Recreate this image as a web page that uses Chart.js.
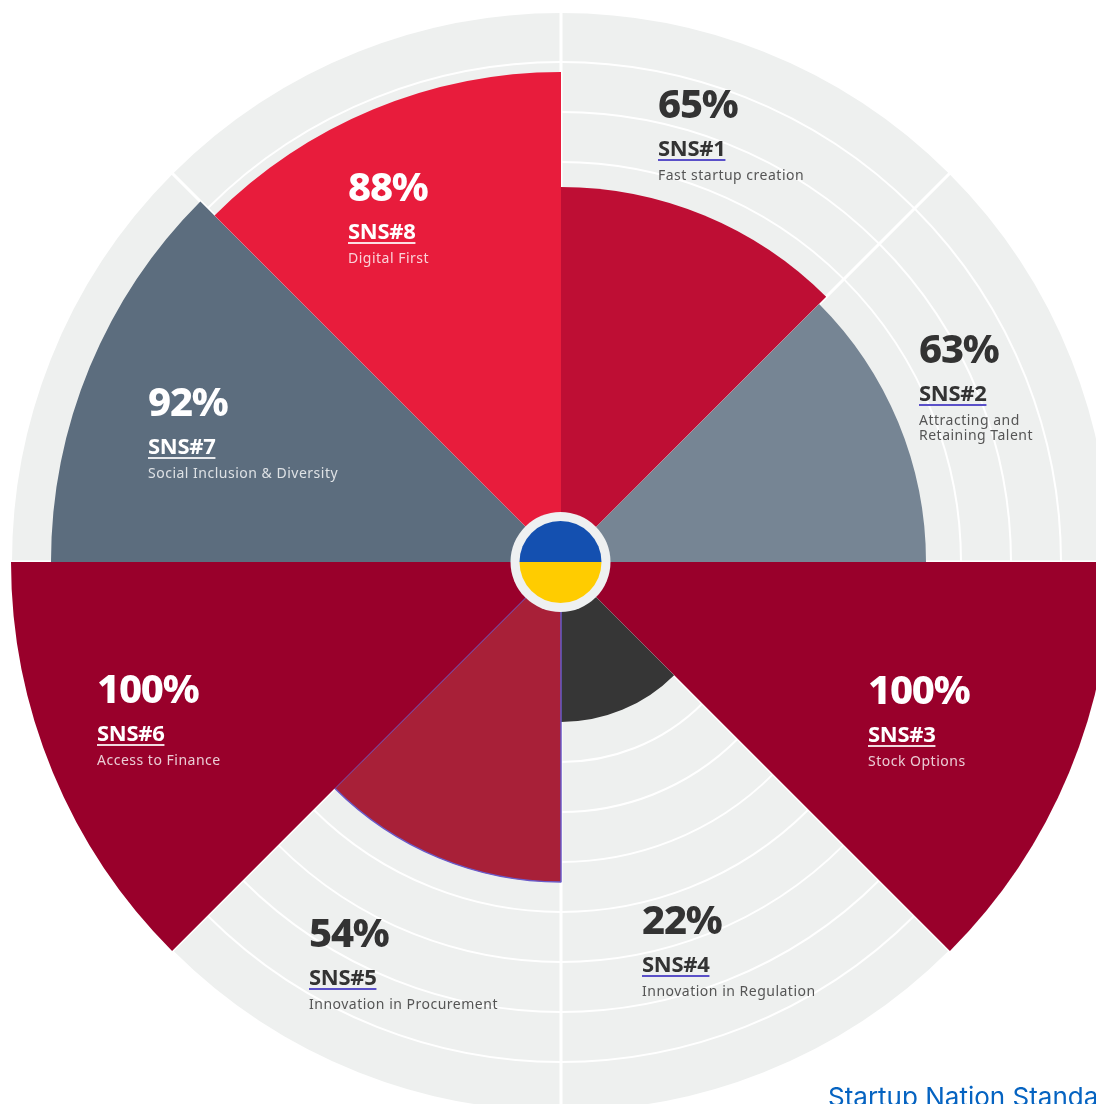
<!DOCTYPE html>
<html>
<head>
<meta charset="utf-8">
<script src="https://cdn.jsdelivr.net/npm/chart.js@4"></script>
<style>
  html, body { margin: 0; padding: 0; background: #fff; overflow: hidden; width: 1096px; height: 1104px; }
  #wrap { position: relative; width: 1096px; height: 1104px; overflow: hidden; }
  #chart { position: absolute; left: 11px; top: 12px; }
  .lbl { position: absolute; font-family: "Noto Sans", sans-serif; white-space: pre-line; }
  .lbl div { position: absolute; left: 0; white-space: pre; }
  .pct { top: -23px; font-size: 40px; line-height: 44px; font-weight: 800; letter-spacing: -1.2px; }
  .sns { top: 30px; font-size: 22px; line-height: 26px; font-weight: 700; letter-spacing: -0.3px;
         text-decoration: underline; text-decoration-thickness: 2px; text-underline-offset: 3px; }
  .desc { top: 63px; font-size: 14px; line-height: 15px; letter-spacing: 0.5px; }
  #src { position: absolute; left: 828px; top: 1081px; font: 26px Inter, sans-serif; color: #0563c1; white-space: nowrap; }
</style>
</head>
<body>
<div id="wrap">
  <canvas id="chart" width="1100" height="1100"></canvas>
  <div id="src">Startup Nation Standard</div>
</div>
<script>
const codes = ["SNS#1", "SNS#2", "SNS#3", "SNS#4", "SNS#5", "SNS#6", "SNS#7", "SNS#8"];
const names = [
  "Fast startup creation",
  "Attracting and\nRetaining Talent",
  "Stock Options",
  "Innovation in Regulation",
  "Innovation in Procurement",
  "Access to Finance",
  "Social Inclusion & Diversity",
  "Digital First",
];
const scores = [65, 63, 100, 22, 54, 100, 92, 88];

const sliceColors = ["#be0e34", "#768594", "#99002b", "#363636", "#a82038", "#99002b", "#5c6d7e", "#e81c3c"];
const sliceBorders = [0, 0, 0, 0, 1.5, 0, 0, 0];

// where each text block sits, and its colours
const labelX = [658, 919, 868, 642, 309, 97, 148, 348];
const labelY = [104, 349, 690, 920, 933, 689, 402, 187];
const darkText = [true, true, false, true, true, false, false, false];

// flag in the middle, drawn over the hole of the scale
const centerFlag = {
  id: "centerFlag",
  afterDatasetsDraw(chart) {
    const r = chart.scales.r;
    const x = r.xCenter - 0.5, y = r.yCenter;
    const outer = r.getDistanceFromCenterForValue(0);
    const inner = r.getDistanceFromCenterForValue(-1.8);
    const ctx = chart.ctx;
    ctx.save();
    ctx.fillStyle = "#eef0f1";
    ctx.beginPath();
    ctx.arc(x, y, outer, 0, Math.PI * 2);
    ctx.fill();
    ctx.fillStyle = "#1450b0";
    ctx.beginPath();
    ctx.arc(x, y, inner, Math.PI, 0);
    ctx.fill();
    ctx.fillStyle = "#ffcc00";
    ctx.beginPath();
    ctx.arc(x, y, inner, 0, Math.PI);
    ctx.fill();
    ctx.restore();
  },
};

new Chart(document.getElementById("chart"), {
  type: "polarArea",
  data: {
    labels: codes,
    datasets: [{
      data: scores,
      backgroundColor: sliceColors,
      borderColor: "#6a5ac8",
      borderWidth: sliceBorders,
    }],
  },
  options: {
    responsive: false,
    animation: false,
    layout: { padding: 0 },
    plugins: { legend: { display: false }, tooltip: { enabled: false } },
    scales: {
      r: {
        min: -10,
        max: 100,
        backgroundColor: "#eef0ef",
        ticks: { display: false, stepSize: 10 },
        grid: { color: "#ffffff", lineWidth: 2 },
        angleLines: { display: true, color: "#ffffff", lineWidth: 3 },
        border: { display: false },
      },
    },
  },
  plugins: [centerFlag],
});

const wrap = document.getElementById("wrap");
codes.forEach((code, i) => {
  const box = document.createElement("div");
  box.className = "lbl";
  box.style.left = labelX[i] + "px";
  box.style.top = labelY[i] + "px";
  const main = darkText[i] ? "#333333" : "#ffffff";
  const soft = darkText[i] ? "#555555" : "rgba(255,255,255,0.8)";
  const line = darkText[i] ? "#5a50c8" : "rgba(255,255,255,0.85)";

  const pct = document.createElement("div");
  pct.className = "pct";
  pct.textContent = scores[i] + "%";
  pct.style.color = main;

  const sns = document.createElement("div");
  sns.className = "sns";
  sns.textContent = code;
  sns.style.color = main;
  sns.style.textDecorationColor = line;

  const desc = document.createElement("div");
  desc.className = "desc";
  desc.textContent = names[i];
  desc.style.color = soft;

  box.append(pct, sns, desc);
  wrap.appendChild(box);
});
</script>
</body>
</html>
